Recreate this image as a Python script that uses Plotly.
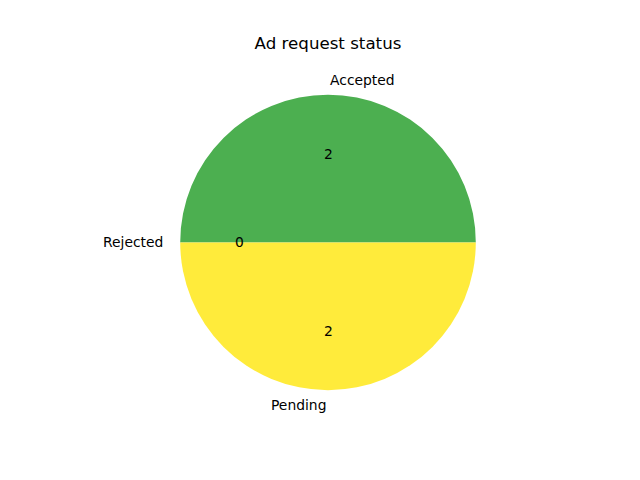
import math
import plotly.graph_objects as go

labels = ["Accepted", "Rejected", "Pending"]
values = [2, 0, 2]
colors = ["#4CAF50", "#F44336", "#FFEB3B"]
title = "Ad request status"

W, H = 640, 480
# matplotlib-like axes geometry
cx_px, cy_px, r_px = 328.0, 242.4, 147.8

fig = go.Figure(go.Pie(
    labels=labels, values=values, sort=False, direction="counterclockwise",
    rotation=-90, marker=dict(colors=colors, line=dict(width=0)),
    textinfo="none", hoverinfo="label+value", showlegend=False,
    domain=dict(x=[(cx_px - r_px) / W, (cx_px + r_px) / W],
                y=[(H - cy_px - r_px) / H, (H - cy_px + r_px) / H]),
))

total = sum(values)
annotations = []
start = 0.0
font = dict(family="DejaVu Sans", size=13.89, color="black")
for lab, v in zip(labels, values):
    span = 360.0 * v / total
    mid = math.radians(start + span / 2)
    start += span
    x, y = math.cos(mid), math.sin(mid)
    # outer label
    lx = (cx_px + 1.1 * r_px * x) / W
    ly = (H - cy_px + 1.1 * r_px * y) / H
    annotations.append(dict(x=lx, y=ly, xref="paper", yref="paper", text=lab,
                            showarrow=False, font=font,
                            xanchor="left" if x > 0 else "right", yanchor="middle"))
    # inner value
    vx = (cx_px + 0.6 * r_px * x) / W
    vy = (H - cy_px + 0.6 * r_px * y) / H
    annotations.append(dict(x=vx, y=vy, xref="paper", yref="paper", text=str(v),
                            showarrow=False, font=font,
                            xanchor="center", yanchor="middle"))

fig.update_layout(
    width=W, height=H, margin=dict(l=0, r=0, t=0, b=0),
    paper_bgcolor="white", plot_bgcolor="white",
    title=dict(text=title, x=cx_px / W, xanchor="center", y=1 - 43 / H, yanchor="middle",
               font=dict(family="DejaVu Sans", size=16.67, color="black")),
    annotations=annotations,
)
fig.write_html("out.html", config={"displayModeBar": False},
               post_script="document.body.style.margin='0';document.body.style.padding='0';")
